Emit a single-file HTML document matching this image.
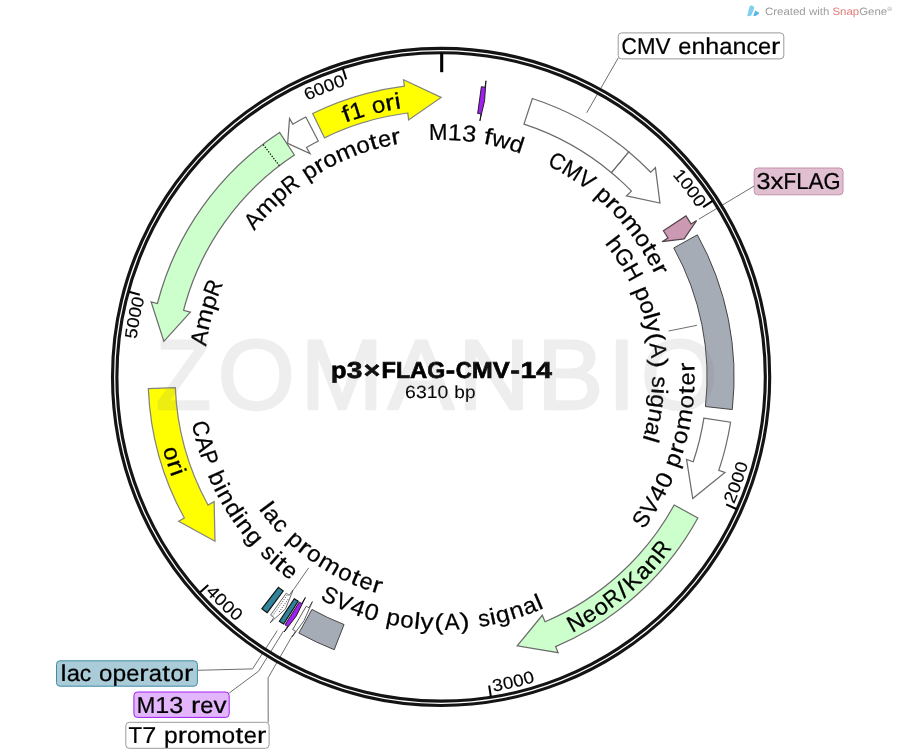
<!DOCTYPE html>
<html><head><meta charset="utf-8"><title>p3xFLAG-CMV-14</title>
<style>
html,body{margin:0;padding:0;background:#fff;}
body{width:900px;height:755px;overflow:hidden;}
svg{display:block;font-family:"Liberation Sans",sans-serif;text-rendering:geometricPrecision;}
</style></head><body>
<svg width="900" height="755" viewBox="0 0 900 755">
<rect x="0" y="0" width="900" height="755" fill="#ffffff"/>
<g opacity="0.999">
<line x1="668.52" y1="331.04" x2="696.95" y2="325.31" stroke="#6e6e6a" stroke-width="1" />
<line x1="308.58" y1="567.93" x2="293.76" y2="589.30" stroke="#6e6e6a" stroke-width="1" />
<line x1="586.7" y1="112.8" x2="618.5" y2="57.5" stroke="#6e6e6a" stroke-width="1"/>
<line x1="698.8" y1="219.2" x2="754.2" y2="186" stroke="#6e6e6a" stroke-width="1"/>
<polyline points="277.3,630.6 252.5,668.9 197.5,670.3" fill="none" stroke="#6e6e6a" stroke-width="1"/>
<polyline points="283.5,631.0 258.6,671.2 229.2,693" fill="none" stroke="#6e6e6a" stroke-width="1"/>
<polyline points="292.6,635.2 268.1,677.8 268.2,722.5" fill="none" stroke="#6e6e6a" stroke-width="1"/>
<circle cx="441.1" cy="376.9" r="326.4" fill="none" stroke="#141414" stroke-width="7.5"/>
<circle cx="441.1" cy="376.9" r="326.4" fill="none" stroke="#ffffff" stroke-width="1.25"/>
<line x1="441.7" y1="53" x2="441.7" y2="72.2" stroke="#000" stroke-width="3.1"/>
<line x1="712.57" y1="200.96" x2="703.17" y2="207.05" stroke="#000" stroke-width="2.0" />
<text transform="translate(675.52,178.97) rotate(49.82) scale(1.090,1)" text-anchor="middle" font-size="17.2" fill="#000" stroke="#000" stroke-width="0.17">1</text>
<text transform="translate(682.11,187.05) rotate(51.77) scale(1.090,1)" text-anchor="middle" font-size="17.2" fill="#000" stroke="#000" stroke-width="0.17">0</text>
<text transform="translate(688.42,195.36) rotate(53.72) scale(1.090,1)" text-anchor="middle" font-size="17.2" fill="#000" stroke="#000" stroke-width="0.17">0</text>
<text transform="translate(694.45,203.87) rotate(55.67) scale(1.090,1)" text-anchor="middle" font-size="17.2" fill="#000" stroke="#000" stroke-width="0.17">0</text>
<line x1="736.39" y1="509.02" x2="726.17" y2="504.44" stroke="#000" stroke-width="2.0" />
<text transform="translate(735.88,499.35) rotate(292.56) scale(1.090,1)" text-anchor="middle" font-size="17.2" fill="#000" stroke="#000" stroke-width="0.17">2</text>
<text transform="translate(739.87,489.27) rotate(290.61) scale(1.090,1)" text-anchor="middle" font-size="17.2" fill="#000" stroke="#000" stroke-width="0.17">0</text>
<text transform="translate(743.51,479.07) rotate(288.67) scale(1.090,1)" text-anchor="middle" font-size="17.2" fill="#000" stroke="#000" stroke-width="0.17">0</text>
<text transform="translate(746.80,468.75) rotate(286.72) scale(1.090,1)" text-anchor="middle" font-size="17.2" fill="#000" stroke="#000" stroke-width="0.17">0</text>
<line x1="490.83" y1="696.55" x2="489.11" y2="685.49" stroke="#000" stroke-width="2.0" />
<text transform="translate(498.67,690.87) rotate(349.61) scale(1.090,1)" text-anchor="middle" font-size="17.2" fill="#000" stroke="#000" stroke-width="0.17">3</text>
<text transform="translate(509.29,688.73) rotate(347.66) scale(1.090,1)" text-anchor="middle" font-size="17.2" fill="#000" stroke="#000" stroke-width="0.17">0</text>
<text transform="translate(519.83,686.24) rotate(345.72) scale(1.090,1)" text-anchor="middle" font-size="17.2" fill="#000" stroke="#000" stroke-width="0.17">0</text>
<text transform="translate(530.29,683.39) rotate(343.77) scale(1.090,1)" text-anchor="middle" font-size="17.2" fill="#000" stroke="#000" stroke-width="0.17">0</text>
<line x1="199.90" y1="592.48" x2="208.25" y2="585.02" stroke="#000" stroke-width="2.0" />
<text transform="translate(208.94,595.97) rotate(406.66) scale(1.090,1)" text-anchor="middle" font-size="17.2" fill="#000" stroke="#000" stroke-width="0.17">4</text>
<text transform="translate(216.51,603.72) rotate(404.72) scale(1.090,1)" text-anchor="middle" font-size="17.2" fill="#000" stroke="#000" stroke-width="0.17">0</text>
<text transform="translate(224.34,611.21) rotate(402.77) scale(1.090,1)" text-anchor="middle" font-size="17.2" fill="#000" stroke="#000" stroke-width="0.17">0</text>
<text transform="translate(232.41,618.43) rotate(400.83) scale(1.090,1)" text-anchor="middle" font-size="17.2" fill="#000" stroke="#000" stroke-width="0.17">0</text>
<line x1="129.01" y1="291.75" x2="139.81" y2="294.69" stroke="#000" stroke-width="2.0" />
<text transform="translate(137.31,334.03) rotate(278.03) scale(1.090,1)" text-anchor="middle" font-size="17.2" fill="#000" stroke="#000" stroke-width="0.17">5</text>
<text transform="translate(138.94,323.72) rotate(279.98) scale(1.090,1)" text-anchor="middle" font-size="17.2" fill="#000" stroke="#000" stroke-width="0.17">0</text>
<text transform="translate(140.93,313.48) rotate(281.93) scale(1.090,1)" text-anchor="middle" font-size="17.2" fill="#000" stroke="#000" stroke-width="0.17">0</text>
<text transform="translate(143.25,303.32) rotate(283.88) scale(1.090,1)" text-anchor="middle" font-size="17.2" fill="#000" stroke="#000" stroke-width="0.17">0</text>
<line x1="342.82" y1="68.69" x2="346.22" y2="79.36" stroke="#000" stroke-width="2.0" />
<text transform="translate(311.86,98.65) rotate(335.09) scale(1.090,1)" text-anchor="middle" font-size="17.2" fill="#000" stroke="#000" stroke-width="0.17">6</text>
<text transform="translate(321.39,94.42) rotate(337.03) scale(1.090,1)" text-anchor="middle" font-size="17.2" fill="#000" stroke="#000" stroke-width="0.17">0</text>
<text transform="translate(331.06,90.51) rotate(338.98) scale(1.090,1)" text-anchor="middle" font-size="17.2" fill="#000" stroke="#000" stroke-width="0.17">0</text>
<text transform="translate(340.86,86.94) rotate(340.93) scale(1.090,1)" text-anchor="middle" font-size="17.2" fill="#000" stroke="#000" stroke-width="0.17">0</text>
<path d="M324.49,137.82 L312.66,113.55 A293.00,293.00 0 0,1 404.38,86.21 L403.56,79.76 L441.10,97.40 L408.64,119.94 L407.76,113.00 A266.00,266.00 0 0,0 324.49,137.82 Z" fill="#ffff00" stroke="#85857a" stroke-width="1.25" stroke-linejoin="miter" />
<path d="M318.27,140.96 L305.81,117.01 A293.00,293.00 0 0,0 292.83,124.18 L289.54,118.58 L287.65,143.29 L310.04,153.51 L306.50,147.47 A266.00,266.00 0 0,1 318.27,140.96 Z" fill="#ffffff" stroke="#6c6c6c" stroke-width="1.25" stroke-linejoin="miter" />
<path d="M294.40,155.01 L279.51,132.49 A293.00,293.00 0 0,0 157.43,303.54 L151.14,301.91 L163.87,341.39 L190.35,312.05 L183.57,310.30 A266.00,266.00 0 0,1 294.40,155.01 Z" fill="#ccffcc" stroke="#6c6c6c" stroke-width="1.25" stroke-linejoin="miter" />
<line x1="279.35" y1="165.73" x2="262.94" y2="144.29" stroke="#000" stroke-width="1.2" stroke-dasharray="1.3,1.5"/>
<path d="M175.31,387.58 L148.34,388.66 A293.00,293.00 0 0,0 184.34,518.05 L178.65,521.19 L214.98,541.19 L214.14,501.67 L208.00,505.05 A266.00,266.00 0 0,1 175.31,387.58 Z" fill="#ffff00" stroke="#85857a" stroke-width="1.25" stroke-linejoin="miter" />
<path d="M523.96,124.14 L532.37,98.48 A293.00,293.00 0 0,1 628.85,151.96 L611.55,172.69 A266.00,266.00 0 0,0 523.96,124.14 Z" fill="#ffffff" stroke="#6c6c6c" stroke-width="1.25"/>
<path d="M611.55,172.69 L628.85,151.96 A293.00,293.00 0 0,1 650.76,172.23 L655.41,167.69 L659.93,203.02 L626.43,195.98 L631.44,191.09 A266.00,266.00 0 0,0 611.55,172.69 Z" fill="#ffffff" stroke="#6c6c6c" stroke-width="1.25" stroke-linejoin="miter" />
<path d="M673.75,247.94 L697.36,234.85 A293.00,293.00 0 0,1 732.27,409.56 L705.44,406.55 A266.00,266.00 0 0,0 673.75,247.94 Z" fill="#a6acb5" stroke="#333" stroke-width="0.9"/>
<path d="M663.37,230.78 L685.94,215.95 A293.00,293.00 0 0,1 691.03,223.98 L696.57,220.59 L684.12,238.84 L662.03,241.73 L668.00,238.07 A266.00,266.00 0 0,0 663.37,230.78 Z" fill="#cc99b2" stroke="#55444d" stroke-width="1.25" stroke-linejoin="miter" />
<path d="M703.90,418.05 L730.57,422.23 A293.00,293.00 0 0,1 718.80,470.36 L724.96,472.43 L692.74,498.55 L686.57,459.51 L693.21,461.74 A266.00,266.00 0 0,0 703.90,418.05 Z" fill="#ffffff" stroke="#6c6c6c" stroke-width="1.25" stroke-linejoin="miter" />
<path d="M674.20,505.05 L697.86,518.05 A293.00,293.00 0 0,1 555.58,646.61 L558.12,652.59 L517.20,645.84 L542.30,615.31 L545.03,621.75 A266.00,266.00 0 0,0 674.20,505.05 Z" fill="#ccffcc" stroke="#6c6c6c" stroke-width="1.25" stroke-linejoin="miter" />
<path d="M311.94,609.44 L298.83,633.04 A293.00,293.00 0 0,0 334.19,649.70 L344.04,624.56 A266.00,266.00 0 0,1 311.94,609.44 Z" fill="#a6acb5" stroke="#333" stroke-width="0.9"/>
<path d="M306.29,606.21 L292.61,629.49 A293.00,293.00 0 0,0 295.49,631.16 L292.26,636.80 L304.10,620.52 L312.38,601.65 L308.90,607.73 A266.00,266.00 0 0,1 306.29,606.21 Z" fill="#ffffff" stroke="#333" stroke-width="0.8" stroke-linejoin="miter" />
<path d="M286.26,593.18 L270.54,615.14 A293.00,293.00 0 0,0 273.88,617.50 L270.17,622.83 L285.41,609.02 L293.29,589.58 L289.29,595.33 A266.00,266.00 0 0,1 286.26,593.18 Z" fill="#ffffff" stroke="#444" stroke-width="0.8" stroke-linejoin="miter" />
<line x1="287.19" y1="595.08" x2="272.78" y2="615.51" stroke="#333" stroke-width="0.9" stroke-dasharray="1,1.4"/>
<line x1="287.98" y1="599.28" x2="278.34" y2="613.28" stroke="#333" stroke-width="0.9" stroke-dasharray="1,1.4"/>
<path d="M278.43,587.37 L261.92,608.73 A293.00,293.00 0 0,0 267.23,612.73 L283.25,591.00 A266.00,266.00 0 0,1 278.43,587.37 Z" fill="#31849b" stroke="#111" stroke-width="1.2"/>
<path d="M294.28,598.71 L279.38,621.23 A293.00,293.00 0 0,0 283.67,624.01 L298.18,601.24 A266.00,266.00 0 0,1 294.28,598.71 Z" fill="#31849b" stroke="#111" stroke-width="1.2"/>
<path d="M299.35,601.99 L284.97,624.83 A293.00,293.00 0 0,0 287.57,626.46 L284.17,631.99 L296.31,615.97 L305.39,597.50 L301.72,603.46 A266.00,266.00 0 0,1 299.35,601.99 Z" fill="#a020f0" stroke="#111" stroke-width="0.9" stroke-linejoin="miter" />
<path d="M477.66,113.42 L481.37,86.68 A293.00,293.00 0 0,1 485.01,87.21 L485.99,80.78 L484.58,100.80 L479.92,120.83 L480.97,113.90 A266.00,266.00 0 0,0 477.66,113.42 Z" fill="#a020f0" stroke="#111" stroke-width="0.9" stroke-linejoin="miter" />
<text transform="translate(349.00,121.50) rotate(-19.83) scale(1.212,1)" text-anchor="middle" font-size="23.0" fill="#000" stroke="#000" stroke-width="0.23">f</text>
<text transform="translate(359.29,118.02) rotate(-17.54) scale(1.094,1)" text-anchor="middle" font-size="23.0" fill="#000" stroke="#000" stroke-width="0.23">1</text>
<text transform="translate(379.95,112.38) rotate(-13.02) scale(1.044,1)" text-anchor="middle" font-size="23.0" fill="#000" stroke="#000" stroke-width="0.23">o</text>
<text transform="translate(391.08,110.05) rotate(-10.62) scale(1.220,1)" text-anchor="middle" font-size="23.0" fill="#000" stroke="#000" stroke-width="0.23">r</text>
<text transform="translate(398.68,108.73) rotate(-8.99) scale(1.180,1)" text-anchor="middle" font-size="23.0" fill="#000" stroke="#000" stroke-width="0.23">i</text>
<text transform="translate(164.56,455.53) rotate(434.13) scale(1.044,1)" text-anchor="middle" font-size="23.0" fill="#000" stroke="#000" stroke-width="0.23">o</text>
<text transform="translate(168.10,467.04) rotate(431.73) scale(1.220,1)" text-anchor="middle" font-size="23.0" fill="#000" stroke="#000" stroke-width="0.23">r</text>
<text transform="translate(170.77,474.76) rotate(430.10) scale(1.180,1)" text-anchor="middle" font-size="23.0" fill="#000" stroke="#000" stroke-width="0.23">i</text>
<text transform="translate(579.40,628.95) rotate(331.25) scale(0.991,1)" text-anchor="middle" font-size="23.0" fill="#000" stroke="#000" stroke-width="0.23">N</text>
<text transform="translate(592.91,621.05) rotate(328.13) scale(1.025,1)" text-anchor="middle" font-size="23.0" fill="#000" stroke="#000" stroke-width="0.23">e</text>
<text transform="translate(604.63,613.36) rotate(325.33) scale(1.044,1)" text-anchor="middle" font-size="23.0" fill="#000" stroke="#000" stroke-width="0.23">o</text>
<text transform="translate(616.87,604.41) rotate(322.31) scale(0.921,1)" text-anchor="middle" font-size="23.0" fill="#000" stroke="#000" stroke-width="0.23">R</text>
<text transform="translate(627.27,595.99) rotate(319.64) scale(1.220,1)" text-anchor="middle" font-size="23.0" fill="#000" stroke="#000" stroke-width="0.23">/</text>
<text transform="translate(637.24,587.10) rotate(316.98) scale(0.994,1)" text-anchor="middle" font-size="23.0" fill="#000" stroke="#000" stroke-width="0.23">K</text>
<text transform="translate(647.99,576.53) rotate(313.98) scale(1.034,1)" text-anchor="middle" font-size="23.0" fill="#000" stroke="#000" stroke-width="0.23">a</text>
<text transform="translate(657.71,565.95) rotate(311.11) scale(1.089,1)" text-anchor="middle" font-size="23.0" fill="#000" stroke="#000" stroke-width="0.23">n</text>
<text transform="translate(667.56,554.02) rotate(308.03) scale(0.921,1)" text-anchor="middle" font-size="23.0" fill="#000" stroke="#000" stroke-width="0.23">R</text>
<text transform="translate(259.00,225.21) rotate(-50.20) scale(0.981,1)" text-anchor="middle" font-size="23.0" fill="#000" stroke="#000" stroke-width="0.23">A</text>
<text transform="translate(271.20,211.67) rotate(-45.80) scale(1.117,1)" text-anchor="middle" font-size="23.0" fill="#000" stroke="#000" stroke-width="0.23">m</text>
<text transform="translate(283.89,199.55) rotate(-41.55) scale(1.071,1)" text-anchor="middle" font-size="23.0" fill="#000" stroke="#000" stroke-width="0.23">p</text>
<text transform="translate(295.03,190.27) rotate(-38.05) scale(0.921,1)" text-anchor="middle" font-size="23.0" fill="#000" stroke="#000" stroke-width="0.23">R</text>
<text transform="translate(313.16,177.40) rotate(-32.67) scale(1.071,1)" text-anchor="middle" font-size="23.0" fill="#000" stroke="#000" stroke-width="0.23">p</text>
<text transform="translate(323.03,171.40) rotate(-29.88) scale(1.220,1)" text-anchor="middle" font-size="23.0" fill="#000" stroke="#000" stroke-width="0.23">r</text>
<text transform="translate(333.02,165.98) rotate(-27.13) scale(1.044,1)" text-anchor="middle" font-size="23.0" fill="#000" stroke="#000" stroke-width="0.23">o</text>
<text transform="translate(348.77,158.62) rotate(-22.93) scale(1.117,1)" text-anchor="middle" font-size="23.0" fill="#000" stroke="#000" stroke-width="0.23">m</text>
<text transform="translate(365.01,152.45) rotate(-18.73) scale(1.044,1)" text-anchor="middle" font-size="23.0" fill="#000" stroke="#000" stroke-width="0.23">o</text>
<text transform="translate(375.52,149.16) rotate(-16.06) scale(1.220,1)" text-anchor="middle" font-size="23.0" fill="#000" stroke="#000" stroke-width="0.23">t</text>
<text transform="translate(386.05,146.38) rotate(-13.43) scale(1.025,1)" text-anchor="middle" font-size="23.0" fill="#000" stroke="#000" stroke-width="0.23">e</text>
<text transform="translate(397.05,144.03) rotate(-10.71) scale(1.220,1)" text-anchor="middle" font-size="23.0" fill="#000" stroke="#000" stroke-width="0.23">r</text>
<text transform="translate(207.15,338.98) rotate(-80.79) scale(0.981,1)" text-anchor="middle" font-size="23.0" fill="#000" stroke="#000" stroke-width="0.23">A</text>
<text transform="translate(210.76,321.12) rotate(-76.39) scale(1.117,1)" text-anchor="middle" font-size="23.0" fill="#000" stroke="#000" stroke-width="0.23">m</text>
<text transform="translate(215.52,304.22) rotate(-72.14) scale(1.071,1)" text-anchor="middle" font-size="23.0" fill="#000" stroke="#000" stroke-width="0.23">p</text>
<text transform="translate(220.38,290.57) rotate(-68.64) scale(0.921,1)" text-anchor="middle" font-size="23.0" fill="#000" stroke="#000" stroke-width="0.23">R</text>
<text transform="translate(438.26,139.92) rotate(-0.69) scale(0.968,1)" text-anchor="middle" font-size="23.0" fill="#000" stroke="#000" stroke-width="0.23">M</text>
<text transform="translate(454.52,140.28) rotate(3.25) scale(1.094,1)" text-anchor="middle" font-size="23.0" fill="#000" stroke="#000" stroke-width="0.23">1</text>
<text transform="translate(468.46,141.48) rotate(6.63) scale(1.094,1)" text-anchor="middle" font-size="23.0" fill="#000" stroke="#000" stroke-width="0.23">3</text>
<text transform="translate(486.84,144.36) rotate(11.13) scale(1.212,1)" text-anchor="middle" font-size="23.0" fill="#000" stroke="#000" stroke-width="0.23">f</text>
<text transform="translate(499.40,147.18) rotate(14.24) scale(1.083,1)" text-anchor="middle" font-size="23.0" fill="#000" stroke="#000" stroke-width="0.23">w</text>
<text transform="translate(514.62,151.59) rotate(18.07) scale(1.071,1)" text-anchor="middle" font-size="23.0" fill="#000" stroke="#000" stroke-width="0.23">d</text>
<text transform="translate(553.56,168.28) rotate(28.33) scale(0.925,1)" text-anchor="middle" font-size="23.0" fill="#000" stroke="#000" stroke-width="0.23">C</text>
<text transform="translate(568.18,176.85) rotate(32.42) scale(0.968,1)" text-anchor="middle" font-size="23.0" fill="#000" stroke="#000" stroke-width="0.23">M</text>
<text transform="translate(582.02,186.35) rotate(36.49) scale(0.981,1)" text-anchor="middle" font-size="23.0" fill="#000" stroke="#000" stroke-width="0.23">V</text>
<text transform="translate(599.17,200.31) rotate(41.83) scale(1.071,1)" text-anchor="middle" font-size="23.0" fill="#000" stroke="#000" stroke-width="0.23">p</text>
<text transform="translate(607.59,208.22) rotate(44.63) scale(1.220,1)" text-anchor="middle" font-size="23.0" fill="#000" stroke="#000" stroke-width="0.23">r</text>
<text transform="translate(615.49,216.41) rotate(47.38) scale(1.044,1)" text-anchor="middle" font-size="23.0" fill="#000" stroke="#000" stroke-width="0.23">o</text>
<text transform="translate(626.78,229.61) rotate(51.58) scale(1.117,1)" text-anchor="middle" font-size="23.0" fill="#000" stroke="#000" stroke-width="0.23">m</text>
<text transform="translate(637.07,243.61) rotate(55.78) scale(1.044,1)" text-anchor="middle" font-size="23.0" fill="#000" stroke="#000" stroke-width="0.23">o</text>
<text transform="translate(643.05,252.86) rotate(58.44) scale(1.220,1)" text-anchor="middle" font-size="23.0" fill="#000" stroke="#000" stroke-width="0.23">t</text>
<text transform="translate(648.53,262.27) rotate(61.07) scale(1.025,1)" text-anchor="middle" font-size="23.0" fill="#000" stroke="#000" stroke-width="0.23">e</text>
<text transform="translate(653.74,272.24) rotate(63.79) scale(1.220,1)" text-anchor="middle" font-size="23.0" fill="#000" stroke="#000" stroke-width="0.23">r</text>
<text transform="translate(608.68,248.69) rotate(52.58) scale(1.089,1)" text-anchor="middle" font-size="23.0" fill="#000" stroke="#000" stroke-width="0.23">h</text>
<text transform="translate(617.63,261.33) rotate(56.79) scale(0.953,1)" text-anchor="middle" font-size="23.0" fill="#000" stroke="#000" stroke-width="0.23">G</text>
<text transform="translate(626.26,275.72) rotate(61.35) scale(0.995,1)" text-anchor="middle" font-size="23.0" fill="#000" stroke="#000" stroke-width="0.23">H</text>
<text transform="translate(636.11,296.34) rotate(67.55) scale(1.071,1)" text-anchor="middle" font-size="23.0" fill="#000" stroke="#000" stroke-width="0.23">p</text>
<text transform="translate(640.88,309.00) rotate(71.23) scale(1.044,1)" text-anchor="middle" font-size="23.0" fill="#000" stroke="#000" stroke-width="0.23">o</text>
<text transform="translate(643.78,318.24) rotate(73.86) scale(1.180,1)" text-anchor="middle" font-size="23.0" fill="#000" stroke="#000" stroke-width="0.23">l</text>
<text transform="translate(646.22,327.45) rotate(76.45) scale(1.133,1)" text-anchor="middle" font-size="23.0" fill="#000" stroke="#000" stroke-width="0.23">y</text>
<text transform="translate(648.61,338.70) rotate(79.57) scale(1.220,1)" text-anchor="middle" font-size="23.0" fill="#000" stroke="#000" stroke-width="0.23">(</text>
<text transform="translate(650.51,351.07) rotate(82.97) scale(0.981,1)" text-anchor="middle" font-size="23.0" fill="#000" stroke="#000" stroke-width="0.23">A</text>
<text transform="translate(651.68,363.54) rotate(86.37) scale(1.220,1)" text-anchor="middle" font-size="23.0" fill="#000" stroke="#000" stroke-width="0.23">)</text>
<text transform="translate(652.04,382.00) rotate(91.38) scale(0.997,1)" text-anchor="middle" font-size="23.0" fill="#000" stroke="#000" stroke-width="0.23">s</text>
<text transform="translate(651.65,390.73) rotate(93.76) scale(1.180,1)" text-anchor="middle" font-size="23.0" fill="#000" stroke="#000" stroke-width="0.23">i</text>
<text transform="translate(650.77,400.56) rotate(96.44) scale(1.071,1)" text-anchor="middle" font-size="23.0" fill="#000" stroke="#000" stroke-width="0.23">g</text>
<text transform="translate(648.77,414.23) rotate(100.19) scale(1.089,1)" text-anchor="middle" font-size="23.0" fill="#000" stroke="#000" stroke-width="0.23">n</text>
<text transform="translate(645.94,427.50) rotate(103.88) scale(1.034,1)" text-anchor="middle" font-size="23.0" fill="#000" stroke="#000" stroke-width="0.23">a</text>
<text transform="translate(643.42,436.79) rotate(106.49) scale(1.180,1)" text-anchor="middle" font-size="23.0" fill="#000" stroke="#000" stroke-width="0.23">l</text>
<text transform="translate(647.80,523.66) rotate(305.37) scale(0.981,1)" text-anchor="middle" font-size="23.0" fill="#000" stroke="#000" stroke-width="0.23">S</text>
<text transform="translate(656.68,510.27) rotate(301.74) scale(0.981,1)" text-anchor="middle" font-size="23.0" fill="#000" stroke="#000" stroke-width="0.23">V</text>
<text transform="translate(664.42,496.85) rotate(298.24) scale(1.094,1)" text-anchor="middle" font-size="23.0" fill="#000" stroke="#000" stroke-width="0.23">4</text>
<text transform="translate(671.10,483.50) rotate(294.87) scale(1.094,1)" text-anchor="middle" font-size="23.0" fill="#000" stroke="#000" stroke-width="0.23">0</text>
<text transform="translate(679.83,462.18) rotate(289.66) scale(1.071,1)" text-anchor="middle" font-size="23.0" fill="#000" stroke="#000" stroke-width="0.23">p</text>
<text transform="translate(683.69,450.47) rotate(286.87) scale(1.220,1)" text-anchor="middle" font-size="23.0" fill="#000" stroke="#000" stroke-width="0.23">r</text>
<text transform="translate(686.93,438.77) rotate(284.13) scale(1.044,1)" text-anchor="middle" font-size="23.0" fill="#000" stroke="#000" stroke-width="0.23">o</text>
<text transform="translate(690.80,420.63) rotate(279.93) scale(1.117,1)" text-anchor="middle" font-size="23.0" fill="#000" stroke="#000" stroke-width="0.23">m</text>
<text transform="translate(693.33,402.26) rotate(275.74) scale(1.044,1)" text-anchor="middle" font-size="23.0" fill="#000" stroke="#000" stroke-width="0.23">o</text>
<text transform="translate(694.23,390.54) rotate(273.09) scale(1.220,1)" text-anchor="middle" font-size="23.0" fill="#000" stroke="#000" stroke-width="0.23">t</text>
<text transform="translate(694.59,378.93) rotate(270.46) scale(1.025,1)" text-anchor="middle" font-size="23.0" fill="#000" stroke="#000" stroke-width="0.23">e</text>
<text transform="translate(694.40,366.92) rotate(267.74) scale(1.220,1)" text-anchor="middle" font-size="23.0" fill="#000" stroke="#000" stroke-width="0.23">r</text>
<text transform="translate(326.39,602.40) rotate(386.96) scale(0.981,1)" text-anchor="middle" font-size="23.0" fill="#000" stroke="#000" stroke-width="0.23">S</text>
<text transform="translate(340.93,609.23) rotate(383.32) scale(0.981,1)" text-anchor="middle" font-size="23.0" fill="#000" stroke="#000" stroke-width="0.23">V</text>
<text transform="translate(355.34,614.92) rotate(379.81) scale(1.094,1)" text-anchor="middle" font-size="23.0" fill="#000" stroke="#000" stroke-width="0.23">4</text>
<text transform="translate(369.54,619.57) rotate(376.43) scale(1.094,1)" text-anchor="middle" font-size="23.0" fill="#000" stroke="#000" stroke-width="0.23">0</text>
<text transform="translate(391.91,625.07) rotate(371.21) scale(1.071,1)" text-anchor="middle" font-size="23.0" fill="#000" stroke="#000" stroke-width="0.23">p</text>
<text transform="translate(406.15,627.47) rotate(367.94) scale(1.044,1)" text-anchor="middle" font-size="23.0" fill="#000" stroke="#000" stroke-width="0.23">o</text>
<text transform="translate(416.42,628.69) rotate(365.60) scale(1.180,1)" text-anchor="middle" font-size="23.0" fill="#000" stroke="#000" stroke-width="0.23">l</text>
<text transform="translate(426.56,629.48) rotate(363.29) scale(1.133,1)" text-anchor="middle" font-size="23.0" fill="#000" stroke="#000" stroke-width="0.23">y</text>
<text transform="translate(438.83,629.89) rotate(360.51) scale(1.220,1)" text-anchor="middle" font-size="23.0" fill="#000" stroke="#000" stroke-width="0.23">(</text>
<text transform="translate(452.19,629.66) rotate(357.49) scale(0.981,1)" text-anchor="middle" font-size="23.0" fill="#000" stroke="#000" stroke-width="0.23">A</text>
<text transform="translate(465.52,628.72) rotate(354.46) scale(1.220,1)" text-anchor="middle" font-size="23.0" fill="#000" stroke="#000" stroke-width="0.23">)</text>
<text transform="translate(485.05,626.05) rotate(350.00) scale(0.997,1)" text-anchor="middle" font-size="23.0" fill="#000" stroke="#000" stroke-width="0.23">s</text>
<text transform="translate(494.21,624.26) rotate(347.88) scale(1.180,1)" text-anchor="middle" font-size="23.0" fill="#000" stroke="#000" stroke-width="0.23">i</text>
<text transform="translate(504.46,621.84) rotate(345.50) scale(1.071,1)" text-anchor="middle" font-size="23.0" fill="#000" stroke="#000" stroke-width="0.23">g</text>
<text transform="translate(518.62,617.73) rotate(342.16) scale(1.089,1)" text-anchor="middle" font-size="23.0" fill="#000" stroke="#000" stroke-width="0.23">n</text>
<text transform="translate(532.28,612.90) rotate(338.87) scale(1.034,1)" text-anchor="middle" font-size="23.0" fill="#000" stroke="#000" stroke-width="0.23">a</text>
<text transform="translate(541.79,609.00) rotate(336.55) scale(1.180,1)" text-anchor="middle" font-size="23.0" fill="#000" stroke="#000" stroke-width="0.23">l</text>
<text transform="translate(260.22,511.55) rotate(413.33) scale(1.180,1)" text-anchor="middle" font-size="23.0" fill="#000" stroke="#000" stroke-width="0.23">l</text>
<text transform="translate(266.59,519.72) rotate(410.70) scale(1.034,1)" text-anchor="middle" font-size="23.0" fill="#000" stroke="#000" stroke-width="0.23">a</text>
<text transform="translate(275.30,529.75) rotate(407.33) scale(0.997,1)" text-anchor="middle" font-size="23.0" fill="#000" stroke="#000" stroke-width="0.23">c</text>
<text transform="translate(290.89,545.09) rotate(401.77) scale(1.071,1)" text-anchor="middle" font-size="23.0" fill="#000" stroke="#000" stroke-width="0.23">p</text>
<text transform="translate(300.39,553.11) rotate(398.61) scale(1.220,1)" text-anchor="middle" font-size="23.0" fill="#000" stroke="#000" stroke-width="0.23">r</text>
<text transform="translate(310.16,560.49) rotate(395.50) scale(1.044,1)" text-anchor="middle" font-size="23.0" fill="#000" stroke="#000" stroke-width="0.23">o</text>
<text transform="translate(325.82,570.71) rotate(390.75) scale(1.117,1)" text-anchor="middle" font-size="23.0" fill="#000" stroke="#000" stroke-width="0.23">m</text>
<text transform="translate(342.27,579.59) rotate(385.99) scale(1.044,1)" text-anchor="middle" font-size="23.0" fill="#000" stroke="#000" stroke-width="0.23">o</text>
<text transform="translate(353.06,584.50) rotate(382.98) scale(1.220,1)" text-anchor="middle" font-size="23.0" fill="#000" stroke="#000" stroke-width="0.23">t</text>
<text transform="translate(363.96,588.80) rotate(380.00) scale(1.025,1)" text-anchor="middle" font-size="23.0" fill="#000" stroke="#000" stroke-width="0.23">e</text>
<text transform="translate(375.45,592.63) rotate(376.93) scale(1.220,1)" text-anchor="middle" font-size="23.0" fill="#000" stroke="#000" stroke-width="0.23">r</text>
<text transform="translate(193.46,430.17) rotate(437.86) scale(0.925,1)" text-anchor="middle" font-size="23.0" fill="#000" stroke="#000" stroke-width="0.23">C</text>
<text transform="translate(197.38,445.91) rotate(434.19) scale(0.981,1)" text-anchor="middle" font-size="23.0" fill="#000" stroke="#000" stroke-width="0.23">A</text>
<text transform="translate(201.93,460.32) rotate(430.77) scale(0.900,1)" text-anchor="middle" font-size="23.0" fill="#000" stroke="#000" stroke-width="0.23">P</text>
<text transform="translate(210.34,481.35) rotate(425.65) scale(1.071,1)" text-anchor="middle" font-size="23.0" fill="#000" stroke="#000" stroke-width="0.23">b</text>
<text transform="translate(214.88,490.86) rotate(423.26) scale(1.180,1)" text-anchor="middle" font-size="23.0" fill="#000" stroke="#000" stroke-width="0.23">i</text>
<text transform="translate(219.87,500.26) rotate(420.85) scale(1.089,1)" text-anchor="middle" font-size="23.0" fill="#000" stroke="#000" stroke-width="0.23">n</text>
<text transform="translate(227.42,512.93) rotate(417.52) scale(1.071,1)" text-anchor="middle" font-size="23.0" fill="#000" stroke="#000" stroke-width="0.23">d</text>
<text transform="translate(233.26,521.69) rotate(415.14) scale(1.180,1)" text-anchor="middle" font-size="23.0" fill="#000" stroke="#000" stroke-width="0.23">i</text>
<text transform="translate(239.53,530.30) rotate(412.73) scale(1.089,1)" text-anchor="middle" font-size="23.0" fill="#000" stroke="#000" stroke-width="0.23">n</text>
<text transform="translate(248.80,541.77) rotate(409.39) scale(1.071,1)" text-anchor="middle" font-size="23.0" fill="#000" stroke="#000" stroke-width="0.23">g</text>
<text transform="translate(263.61,557.62) rotate(404.48) scale(0.997,1)" text-anchor="middle" font-size="23.0" fill="#000" stroke="#000" stroke-width="0.23">s</text>
<text transform="translate(270.39,564.03) rotate(402.37) scale(1.180,1)" text-anchor="middle" font-size="23.0" fill="#000" stroke="#000" stroke-width="0.23">i</text>
<text transform="translate(276.26,569.23) rotate(400.60) scale(1.220,1)" text-anchor="middle" font-size="23.0" fill="#000" stroke="#000" stroke-width="0.23">t</text>
<text transform="translate(285.26,576.59) rotate(397.97) scale(1.025,1)" text-anchor="middle" font-size="23.0" fill="#000" stroke="#000" stroke-width="0.23">e</text>
<rect x="618.2" y="32.9" width="165.6" height="26.0" rx="3.5" ry="3.5" fill="#ffffff" stroke="#9a9a9a" stroke-width="1"/>
<text transform="translate(629.29,54.00) rotate(0.00) scale(0.925,1)" text-anchor="middle" font-size="23.0" fill="#000" stroke="#000" stroke-width="0.23">C</text>
<text transform="translate(646.24,54.00) rotate(0.00) scale(0.968,1)" text-anchor="middle" font-size="23.0" fill="#000" stroke="#000" stroke-width="0.23">M</text>
<text transform="translate(663.04,54.00) rotate(0.00) scale(0.981,1)" text-anchor="middle" font-size="23.0" fill="#000" stroke="#000" stroke-width="0.23">V</text>
<text transform="translate(684.86,54.00) rotate(0.00) scale(1.025,1)" text-anchor="middle" font-size="23.0" fill="#000" stroke="#000" stroke-width="0.23">e</text>
<text transform="translate(698.38,54.00) rotate(0.00) scale(1.089,1)" text-anchor="middle" font-size="23.0" fill="#000" stroke="#000" stroke-width="0.23">n</text>
<text transform="translate(712.31,54.00) rotate(0.00) scale(1.089,1)" text-anchor="middle" font-size="23.0" fill="#000" stroke="#000" stroke-width="0.23">h</text>
<text transform="translate(725.88,54.00) rotate(0.00) scale(1.034,1)" text-anchor="middle" font-size="23.0" fill="#000" stroke="#000" stroke-width="0.23">a</text>
<text transform="translate(739.46,54.00) rotate(0.00) scale(1.089,1)" text-anchor="middle" font-size="23.0" fill="#000" stroke="#000" stroke-width="0.23">n</text>
<text transform="translate(752.15,54.00) rotate(0.00) scale(0.997,1)" text-anchor="middle" font-size="23.0" fill="#000" stroke="#000" stroke-width="0.23">c</text>
<text transform="translate(764.44,54.00) rotate(0.00) scale(1.025,1)" text-anchor="middle" font-size="23.0" fill="#000" stroke="#000" stroke-width="0.23">e</text>
<text transform="translate(775.69,54.00) rotate(0.00) scale(1.220,1)" text-anchor="middle" font-size="23.0" fill="#000" stroke="#000" stroke-width="0.23">r</text>
<rect x="754.2" y="168.0" width="88.8" height="26.8" rx="3.5" ry="3.5" fill="#e0bfd0" stroke="#c48fab" stroke-width="1"/>
<text transform="translate(763.59,188.70) rotate(0.00) scale(1.094,1)" text-anchor="middle" font-size="23.0" fill="#000" stroke="#000" stroke-width="0.23">3</text>
<text transform="translate(777.09,188.70) rotate(0.00) scale(1.133,1)" text-anchor="middle" font-size="23.0" fill="#000" stroke="#000" stroke-width="0.23">x</text>
<text transform="translate(789.93,188.70) rotate(0.00) scale(0.900,1)" text-anchor="middle" font-size="23.0" fill="#000" stroke="#000" stroke-width="0.23">F</text>
<text transform="translate(802.38,188.70) rotate(0.00) scale(0.958,1)" text-anchor="middle" font-size="23.0" fill="#000" stroke="#000" stroke-width="0.23">L</text>
<text transform="translate(816.03,188.70) rotate(0.00) scale(0.981,1)" text-anchor="middle" font-size="23.0" fill="#000" stroke="#000" stroke-width="0.23">A</text>
<text transform="translate(832.08,188.70) rotate(0.00) scale(0.953,1)" text-anchor="middle" font-size="23.0" fill="#000" stroke="#000" stroke-width="0.23">G</text>
<rect x="56.5" y="660.8" width="140.9" height="25.4" rx="3.5" ry="3.5" fill="#a9ccd8" stroke="#3f8ca5" stroke-width="1"/>
<text transform="translate(63.63,681.30) rotate(0.00) scale(1.180,1)" text-anchor="middle" font-size="23.0" fill="#000" stroke="#000" stroke-width="0.23">l</text>
<text transform="translate(73.26,681.30) rotate(0.00) scale(1.034,1)" text-anchor="middle" font-size="23.0" fill="#000" stroke="#000" stroke-width="0.23">a</text>
<text transform="translate(85.60,681.30) rotate(0.00) scale(0.997,1)" text-anchor="middle" font-size="23.0" fill="#000" stroke="#000" stroke-width="0.23">c</text>
<text transform="translate(105.75,681.30) rotate(0.00) scale(1.044,1)" text-anchor="middle" font-size="23.0" fill="#000" stroke="#000" stroke-width="0.23">o</text>
<text transform="translate(119.28,681.30) rotate(0.00) scale(1.071,1)" text-anchor="middle" font-size="23.0" fill="#000" stroke="#000" stroke-width="0.23">p</text>
<text transform="translate(132.69,681.30) rotate(0.00) scale(1.025,1)" text-anchor="middle" font-size="23.0" fill="#000" stroke="#000" stroke-width="0.23">e</text>
<text transform="translate(143.94,681.30) rotate(0.00) scale(1.220,1)" text-anchor="middle" font-size="23.0" fill="#000" stroke="#000" stroke-width="0.23">r</text>
<text transform="translate(155.25,681.30) rotate(0.00) scale(1.034,1)" text-anchor="middle" font-size="23.0" fill="#000" stroke="#000" stroke-width="0.23">a</text>
<text transform="translate(166.20,681.30) rotate(0.00) scale(1.220,1)" text-anchor="middle" font-size="23.0" fill="#000" stroke="#000" stroke-width="0.23">t</text>
<text transform="translate(177.21,681.30) rotate(0.00) scale(1.044,1)" text-anchor="middle" font-size="23.0" fill="#000" stroke="#000" stroke-width="0.23">o</text>
<text transform="translate(188.58,681.30) rotate(0.00) scale(1.220,1)" text-anchor="middle" font-size="23.0" fill="#000" stroke="#000" stroke-width="0.23">r</text>
<rect x="133.9" y="692.0" width="95.3" height="25.4" rx="3.5" ry="3.5" fill="#e3b5fb" stroke="#a020f0" stroke-width="1"/>
<text transform="translate(145.92,712.50) rotate(0.00) scale(0.968,1)" text-anchor="middle" font-size="23.0" fill="#000" stroke="#000" stroke-width="0.23">M</text>
<text transform="translate(162.19,712.50) rotate(0.00) scale(1.094,1)" text-anchor="middle" font-size="23.0" fill="#000" stroke="#000" stroke-width="0.23">1</text>
<text transform="translate(176.18,712.50) rotate(0.00) scale(1.094,1)" text-anchor="middle" font-size="23.0" fill="#000" stroke="#000" stroke-width="0.23">3</text>
<text transform="translate(195.62,712.50) rotate(0.00) scale(1.220,1)" text-anchor="middle" font-size="23.0" fill="#000" stroke="#000" stroke-width="0.23">r</text>
<text transform="translate(206.87,712.50) rotate(0.00) scale(1.025,1)" text-anchor="middle" font-size="23.0" fill="#000" stroke="#000" stroke-width="0.23">e</text>
<text transform="translate(219.94,712.50) rotate(0.00) scale(1.133,1)" text-anchor="middle" font-size="23.0" fill="#000" stroke="#000" stroke-width="0.23">v</text>
<rect x="125.8" y="722.3" width="143.3" height="26.0" rx="3.5" ry="3.5" fill="#ffffff" stroke="#9a9a9a" stroke-width="1"/>
<text transform="translate(135.39,743.20) rotate(0.00) scale(0.965,1)" text-anchor="middle" font-size="23.0" fill="#000" stroke="#000" stroke-width="0.23">T</text>
<text transform="translate(149.16,743.20) rotate(0.00) scale(1.094,1)" text-anchor="middle" font-size="23.0" fill="#000" stroke="#000" stroke-width="0.23">7</text>
<text transform="translate(170.75,743.20) rotate(0.00) scale(1.071,1)" text-anchor="middle" font-size="23.0" fill="#000" stroke="#000" stroke-width="0.23">p</text>
<text transform="translate(182.30,743.20) rotate(0.00) scale(1.220,1)" text-anchor="middle" font-size="23.0" fill="#000" stroke="#000" stroke-width="0.23">r</text>
<text transform="translate(193.68,743.20) rotate(0.00) scale(1.044,1)" text-anchor="middle" font-size="23.0" fill="#000" stroke="#000" stroke-width="0.23">o</text>
<text transform="translate(211.06,743.20) rotate(0.00) scale(1.117,1)" text-anchor="middle" font-size="23.0" fill="#000" stroke="#000" stroke-width="0.23">m</text>
<text transform="translate(228.44,743.20) rotate(0.00) scale(1.044,1)" text-anchor="middle" font-size="23.0" fill="#000" stroke="#000" stroke-width="0.23">o</text>
<text transform="translate(239.45,743.20) rotate(0.00) scale(1.220,1)" text-anchor="middle" font-size="23.0" fill="#000" stroke="#000" stroke-width="0.23">t</text>
<text transform="translate(250.34,743.20) rotate(0.00) scale(1.025,1)" text-anchor="middle" font-size="23.0" fill="#000" stroke="#000" stroke-width="0.23">e</text>
<text transform="translate(261.59,743.20) rotate(0.00) scale(1.220,1)" text-anchor="middle" font-size="23.0" fill="#000" stroke="#000" stroke-width="0.23">r</text>
<text transform="translate(338.82,377.80) rotate(0.00) scale(1.102,1)" text-anchor="middle" font-size="23.0" font-weight="bold" fill="#000" stroke="#000" stroke-width="0.7">p</text>
<text transform="translate(354.44,377.80) rotate(0.00) scale(1.220,1)" text-anchor="middle" font-size="23.0" font-weight="bold" fill="#000" stroke="#000" stroke-width="0.7">3</text>
<text transform="translate(371.92,377.80) rotate(0.00) scale(1.220,1)" text-anchor="middle" font-size="23.0" font-weight="bold" fill="#000" stroke="#000" stroke-width="0.7">×</text>
<text transform="translate(388.72,377.80) rotate(0.00) scale(1.025,1)" text-anchor="middle" font-size="23.0" font-weight="bold" fill="#000" stroke="#000" stroke-width="0.7">F</text>
<text transform="translate(402.97,377.80) rotate(0.00) scale(1.004,1)" text-anchor="middle" font-size="23.0" font-weight="bold" fill="#000" stroke="#000" stroke-width="0.7">L</text>
<text transform="translate(418.62,377.80) rotate(0.00) scale(1.035,1)" text-anchor="middle" font-size="23.0" font-weight="bold" fill="#000" stroke="#000" stroke-width="0.7">A</text>
<text transform="translate(436.21,377.80) rotate(0.00) scale(1.005,1)" text-anchor="middle" font-size="23.0" font-weight="bold" fill="#000" stroke="#000" stroke-width="0.7">G</text>
<text transform="translate(450.52,377.80) rotate(0.00) scale(1.220,1)" text-anchor="middle" font-size="23.0" font-weight="bold" fill="#000" stroke="#000" stroke-width="0.7">-</text>
<text transform="translate(463.85,377.80) rotate(0.00) scale(0.965,1)" text-anchor="middle" font-size="23.0" font-weight="bold" fill="#000" stroke="#000" stroke-width="0.7">C</text>
<text transform="translate(482.37,377.80) rotate(0.00) scale(1.096,1)" text-anchor="middle" font-size="23.0" font-weight="bold" fill="#000" stroke="#000" stroke-width="0.7">M</text>
<text transform="translate(501.33,377.80) rotate(0.00) scale(1.103,1)" text-anchor="middle" font-size="23.0" font-weight="bold" fill="#000" stroke="#000" stroke-width="0.7">V</text>
<text transform="translate(515.10,377.80) rotate(0.00) scale(1.220,1)" text-anchor="middle" font-size="23.0" font-weight="bold" fill="#000" stroke="#000" stroke-width="0.7">-</text>
<text transform="translate(528.29,377.80) rotate(0.00) scale(1.220,1)" text-anchor="middle" font-size="23.0" font-weight="bold" fill="#000" stroke="#000" stroke-width="0.7">1</text>
<text transform="translate(544.04,377.80) rotate(0.00) scale(1.220,1)" text-anchor="middle" font-size="23.0" font-weight="bold" fill="#000" stroke="#000" stroke-width="0.7">4</text>
<text transform="translate(410.50,397.80) rotate(0.00) scale(1.098,1)" text-anchor="middle" font-size="17.7" fill="#000" stroke="#000" stroke-width="0.1">6</text>
<text transform="translate(421.31,397.80) rotate(0.00) scale(1.098,1)" text-anchor="middle" font-size="17.7" fill="#000" stroke="#000" stroke-width="0.1">3</text>
<text transform="translate(432.12,397.80) rotate(0.00) scale(1.098,1)" text-anchor="middle" font-size="17.7" fill="#000" stroke="#000" stroke-width="0.1">1</text>
<text transform="translate(442.94,397.80) rotate(0.00) scale(1.098,1)" text-anchor="middle" font-size="17.7" fill="#000" stroke="#000" stroke-width="0.1">0</text>
<text transform="translate(459.62,397.80) rotate(0.00) scale(1.076,1)" text-anchor="middle" font-size="17.7" fill="#000" stroke="#000" stroke-width="0.1">b</text>
<text transform="translate(470.21,397.80) rotate(0.00) scale(1.076,1)" text-anchor="middle" font-size="17.7" fill="#000" stroke="#000" stroke-width="0.1">p</text>
<path d="M747.2,15.8 L749.6,6.6 Q750.4,5 752,5.6 L753.6,6.6 Q754.6,7.6 754,9 L751.4,15.2 Q749,17 747.2,15.8 Z" fill="#7fd0ee"/>
<path d="M753.4,15.4 L755.2,10.4 L758.8,12.6 Q759.4,13.4 758.6,14 L755.4,16 Q754,16.4 753.4,15.4 Z" fill="#55b8e6"/>
<text x="765" y="14.8" font-size="10.6" fill="#9c9c9c" textLength="127" lengthAdjust="spacingAndGlyphs">Created with <tspan fill="#e07a78">Snap</tspan>Gene<tspan font-size="6" dy="-4">®</tspan></text>
<g fill="#808080" stroke="#808080" stroke-width="2.6" stroke-linejoin="round" opacity="0.133">
<text transform="translate(158.6,409.2) scale(0.915,1) translate(-3.07,0)" font-size="99">Z</text>
<text transform="translate(222.3,409.2) scale(1.0,1) translate(-4.65,0)" font-size="99">O</text>
<text transform="translate(308.8,409.2) scale(1.0,1) translate(-8.12,0)" font-size="99">M</text>
<text transform="translate(388.3,409.2) scale(1.0,1) translate(-0.20,0)" font-size="99">A</text>
<text transform="translate(466.3,409.2) scale(1.0,1) translate(-8.12,0)" font-size="99">N</text>
<text transform="translate(545.3,409.2) scale(1.0,1) translate(-8.12,0)" font-size="99">B</text>
<text transform="translate(617.0,409.2) scale(1.0,1) translate(-9.11,0)" font-size="99">I</text>
<text transform="translate(645.7,409.2) scale(1.0,1) translate(-4.65,0)" font-size="99">O</text>
</g>
</g>
</svg>
</body></html>
